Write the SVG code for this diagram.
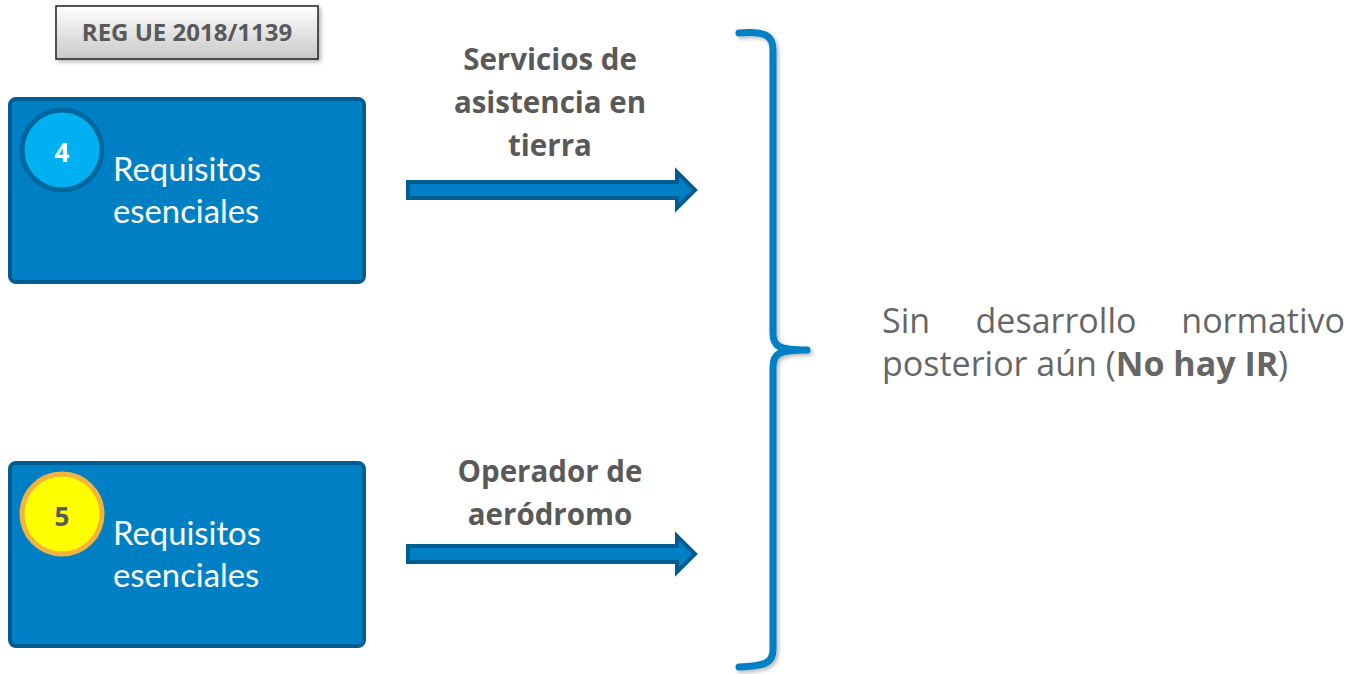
<svg xmlns="http://www.w3.org/2000/svg" width="1355" height="674" viewBox="0 0 1355 674">
<defs>
<linearGradient id="gray" x1="0" y1="0" x2="0" y2="1">
<stop offset="0" stop-color="#ffffff"/>
<stop offset="1" stop-color="#c8c8c8"/>
</linearGradient>
<filter id="sh" x="-10%" y="-10%" width="130%" height="130%">
<feDropShadow dx="2" dy="2" stdDeviation="2" flood-color="#000" flood-opacity="0.3"/>
</filter>
</defs>
<style>
.box{fill:#0080c4;stroke:#005c91;stroke-width:4}
.lbl{font-family:Lato,"Open Sans",sans-serif;font-size:32.8px;fill:#ffffff}
.num{font-family:"Open Sans",sans-serif;font-weight:bold;font-size:26px;text-anchor:middle}
.mid{font-family:"Open Sans",sans-serif;font-weight:bold;font-size:29.5px;fill:#595959;text-anchor:middle}
.arrow{fill:#0080c4;stroke:#005c91;stroke-width:4;stroke-linejoin:miter}
.right{font-family:"Open Sans",sans-serif;font-size:34px;fill:#666666}
</style>
<g id="reg">
<rect x="56" y="6" width="262" height="53" fill="url(#gray)" stroke="#222" stroke-width="1.5" filter="url(#sh)"/>
<text x="187" y="41" font-family="'Open Sans',sans-serif" font-weight="bold" font-size="24" fill="#595959" text-anchor="middle">REG UE 2018/1139</text>
</g>
<g id="node4">
<rect class="box" x="10" y="99" width="354" height="183" rx="6"/>
<circle cx="62" cy="150" r="40" fill="#00b0f0" stroke="#00679e" stroke-width="5"/>
<text class="num" x="62" y="162" fill="#ffffff">4</text>
<text class="lbl" x="113" y="181">Requisitos</text>
<text class="lbl" x="113" y="223">esenciales</text>
</g>
<g id="node5">
<rect class="box" x="10" y="463" width="354" height="183" rx="6"/>
<circle cx="62" cy="514" r="40" fill="#ffff00" stroke="#f4b33c" stroke-width="5"/>
<text class="num" x="62" y="526" fill="#595959">5</text>
<text class="lbl" x="113" y="545">Requisitos</text>
<text class="lbl" x="113" y="587">esenciales</text>
</g>
<g id="label1">
<text class="mid" x="550" y="70">Servicios de</text>
<text class="mid" x="550" y="113">asistencia en</text>
<text class="mid" x="550" y="156">tierra</text>
</g>
<g id="label2">
<text class="mid" x="550" y="482">Operador de</text>
<text class="mid" x="550" y="525">aeródromo</text>
</g>
<g id="connectors">
<path class="arrow" d="M408,182 L677,182 L677,172 L695,190 L677,208 L677,198 L408,198 Z"/>
<path class="arrow" d="M408,546 L677,546 L677,536 L695,554 L677,572 L677,562 L408,562 Z"/>
<path d="M739,33 C765,31 773,35 773,50 L773,333 C773,346 778,350 807,350 C778,350 773,354 773,367 L773,650 C773,663 765,666 739,667" fill="none" stroke="#0080c4" stroke-width="7" stroke-linecap="round" stroke-linejoin="round" filter="url(#sh)"/>
</g>
<g id="result">
<text class="right" x="882" y="333">Sin</text>
<text class="right" x="1056" y="333" text-anchor="middle">desarrollo</text>
<text class="right" x="1345" y="333" text-anchor="end">normativo</text>
<text class="right" x="882" y="376">posterior aún (<tspan font-weight="bold">No hay IR</tspan>)</text>
</g>
</svg>
